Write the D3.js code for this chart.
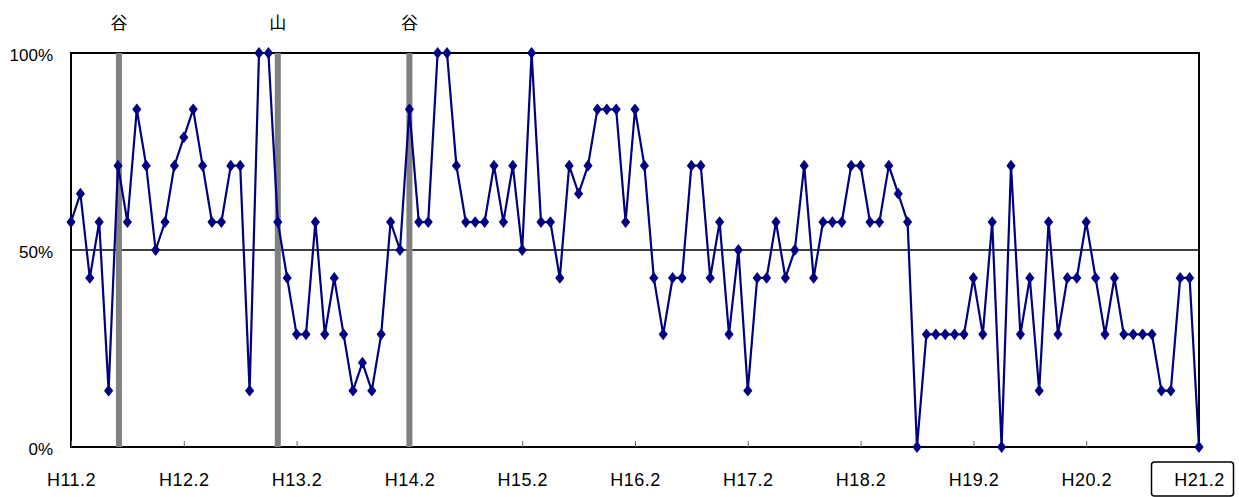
<!DOCTYPE html>
<html>
<head>
<meta charset="utf-8">
<script src="https://cdn.jsdelivr.net/npm/d3@7"></script>
<style>
  body { margin: 0; background: #fff; }
  svg { display: block; }
</style>
</head>
<body>
<div id="chart"></div>
<script>
// monthly values (%), H11.2 .. H21.2
var values = [
  57.1, 64.3, 42.9, 57.1, 14.3, 71.4, 57.1, 85.7, 71.4, 50.0,
  57.1, 71.4, 78.6, 85.7, 71.4, 57.1, 57.1, 71.4, 71.4, 14.3,
  100, 100, 57.1, 42.9, 28.6, 28.6, 57.1, 28.6, 42.9, 28.6,
  14.3, 21.4, 14.3, 28.6, 57.1, 50.0, 85.7, 57.1, 57.1, 100,
  100, 71.4, 57.1, 57.1, 57.1, 71.4, 57.1, 71.4, 50.0, 100,
  57.1, 57.1, 42.9, 71.4, 64.3, 71.4, 85.7, 85.7, 85.7, 57.1,
  85.7, 71.4, 42.9, 28.6, 42.9, 42.9, 71.4, 71.4, 42.9, 57.1,
  28.6, 50.0, 14.3, 42.9, 42.9, 57.1, 42.9, 50.0, 71.4, 42.9,
  57.1, 57.1, 57.1, 71.4, 71.4, 57.1, 57.1, 71.4, 64.3, 57.1,
  0, 28.6, 28.6, 28.6, 28.6, 28.6, 42.9, 28.6, 57.1, 0,
  71.4, 28.6, 42.9, 14.3, 57.1, 28.6, 42.9, 42.9, 57.1, 42.9,
  28.6, 42.9, 28.6, 28.6, 28.6, 28.6, 14.3, 14.3, 42.9, 42.9,
  0
];

var xTickLabels = ["H11.2", "H12.2", "H13.2", "H14.2", "H15.2", "H16.2",
                   "H17.2", "H18.2", "H19.2", "H20.2", "H21.2"];
var yTicks = [0, 50, 100];

// business cycle turning points (month index from H11.2)
var turnIndex = [5.1, 22, 36];
var turnLabel = ["谷", "山", "谷"];

var width = 1239, height = 497;
var plotLeft = 71, plotRight = 1199, plotTop = 53, plotBottom = 447;

var svg = d3.select("#chart").append("svg")
  .attr("width", width)
  .attr("height", height);

var x = d3.scaleLinear()
  .domain([0, values.length - 1])
  .range([plotLeft, plotRight]);

var y = d3.scaleLinear()
  .domain([0, 100])
  .range([plotBottom, plotTop]);

// 50% line
svg.append("line")
  .attr("x1", plotLeft).attr("x2", plotRight)
  .attr("y1", y(50)).attr("y2", y(50))
  .attr("stroke", "#000").attr("stroke-width", 1.5);

// frame
svg.append("rect")
  .attr("x", plotLeft).attr("y", plotTop)
  .attr("width", plotRight - plotLeft).attr("height", plotBottom - plotTop)
  .attr("fill", "none").attr("stroke", "#000").attr("stroke-width", 2);

// x axis: year ticks pointing inward
var xAxis = d3.axisBottom(x)
  .tickValues(xTickLabels.map(function(d, i) { return i * 12; }))
  .tickSize(-6)
  .tickFormat(function(d, i) { return xTickLabels[i]; });

var gx = svg.append("g")
  .attr("transform", "translate(0," + plotBottom + ")")
  .call(xAxis);
gx.select(".domain").remove();
gx.selectAll(".tick line").attr("stroke", "#666").attr("stroke-width", 1);
gx.selectAll(".tick text")
  .attr("y", 33)
  .attr("dy", "0.35em")
  .attr("fill", "#000")
  .style("font-family", "Liberation Sans, Arial, sans-serif")
  .style("font-size", "18px")
  .style("letter-spacing", "0.5px");

// box round the last label
var lastTick = gx.selectAll(".tick").filter(function(d, i) { return i === xTickLabels.length - 1; });
lastTick.insert("rect", "text")
  .attr("x", -48).attr("y", 15)
  .attr("width", 82).attr("height", 34)
  .attr("rx", 3)
  .attr("fill", "#fff").attr("stroke", "#000").attr("stroke-width", 1.5);

// y axis labels
var yAxis = d3.axisLeft(y)
  .tickValues(yTicks)
  .tickSize(0)
  .tickPadding(18)
  .tickFormat(function(d) { return d + "%"; });

var gy = svg.append("g")
  .attr("transform", "translate(" + plotLeft + ",0)")
  .call(yAxis);
gy.select(".domain").remove();
gy.selectAll(".tick text")
  .attr("dy", "0.45em")
  .attr("fill", "#000")
  .style("font-family", "Liberation Sans, Arial, sans-serif")
  .style("font-size", "17px");

// turning point bars
svg.selectAll(".turn")
  .data(turnIndex)
  .enter().append("line")
  .attr("class", "turn")
  .attr("x1", function(d) { return x(d); })
  .attr("x2", function(d) { return x(d); })
  .attr("y1", plotTop).attr("y2", plotBottom)
  .attr("stroke", "#808080").attr("stroke-width", 6);

svg.selectAll(".turnLabel")
  .data(turnIndex)
  .enter().append("text")
  .attr("class", "turnLabel")
  .attr("x", function(d) { return x(d); })
  .attr("y", 23)
  .attr("dy", "0.35em")
  .attr("text-anchor", "middle")
  .style("font-family", "Noto Sans CJK JP, sans-serif")
  .style("font-size", "17px")
  .text(function(d, i) { return turnLabel[i]; });

// series line
var line = d3.line()
  .x(function(d, i) { return x(i); })
  .y(function(d) { return y(d); });

svg.append("path")
  .datum(values)
  .attr("d", line)
  .attr("fill", "none")
  .attr("stroke", "#000080")
  .attr("stroke-width", 2.2);

// diamond markers
var diamond = d3.symbol().type(d3.symbolDiamond).size(40);
svg.selectAll(".pt")
  .data(values)
  .enter().append("path")
  .attr("class", "pt")
  .attr("d", diamond)
  .attr("transform", function(d, i) {
    return "translate(" + x(i) + "," + y(d) + ") scale(1.35,1)";
  })
  .attr("fill", "#000080");
</script>
</body>
</html>
